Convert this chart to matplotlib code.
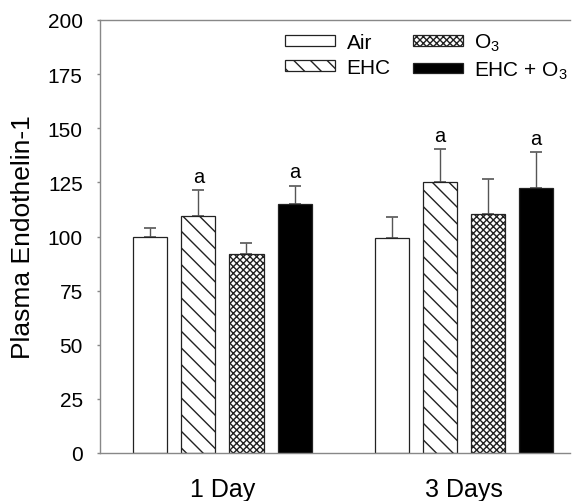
import matplotlib
matplotlib.use("Agg")
import matplotlib.pyplot as plt
import numpy as np

plt.rcParams['font.family'] = ['Liberation Sans', 'DejaVu Sans']
plt.rcParams['mathtext.default'] = 'regular'
plt.rcParams['hatch.linewidth'] = 1.0

groups = ["1 Day", "3 Days"]
series = ["Air", "EHC", "O$_3$", "EHC + O$_3$"]
values = {
    "Air": [100, 99.5],
    "EHC": [109.5, 125],
    "O$_3$": [92, 110.5],
    "EHC + O$_3$": [115, 122.5],
}
errors = {
    "Air": [4, 9.7],
    "EHC": [12, 15.5],
    "O$_3$": [5, 16],
    "EHC + O$_3$": [8.5, 16.5],
}
sig = {
    "Air": ["", ""],
    "EHC": ["a", "a"],
    "O$_3$": ["", ""],
    "EHC + O$_3$": ["a", "a"],
}
yticks = [0, 25, 50, 75, 100, 125, 150, 175, 200]

styles = {
    "Air": dict(facecolor="white", hatch=None),
    "EHC": dict(facecolor="white", hatch="\\\\"),
    "O$_3$": dict(facecolor="white", hatch="xxxxx"),
    "EHC + O$_3$": dict(facecolor="black", hatch=None),
}

fig = plt.figure(figsize=(5.76, 5.02), dpi=100)
ax = fig.add_axes([100/576, 48/502, 470/576, 433/502])

x = np.arange(len(groups))
step = 0.199
width = 0.141
offsets = (np.arange(len(series)) - 1.5) * step

handles = []
for i, s in enumerate(series):
    xs = x + offsets[i]
    st = styles[s]
    b = ax.bar(xs, values[s], width=width, facecolor=st["facecolor"],
               hatch=st["hatch"], edgecolor="#222222", linewidth=0.9,
               label=s, zorder=2)
    handles.append(b)
    ax.errorbar(xs, values[s], yerr=[np.zeros(len(xs)), errors[s]],
                fmt="none", ecolor="#555555", elinewidth=1.0, capsize=4,
                capthick=1.2, zorder=1)
    for j, t in enumerate(sig[s]):
        if t:
            ax.annotate(t, (xs[j], values[s][j] + errors[s][j]),
                        xytext=(0, 3), textcoords="offset points",
                        ha="center", va="bottom", fontsize=14.5)

ax.set_ylim(0, 200)
ax.set_xlim(-0.507, 1.439)
ax.set_yticks(yticks)
ax.set_xticks(x)
ax.set_xticklabels(groups, fontsize=18)
ax.tick_params(axis="x", length=0, pad=17)
ax.tick_params(axis="y", labelsize=15, length=2.5, width=1, color="#888888", pad=10)
ax.set_ylabel("Plasma Endothelin-1", fontsize=19)
ax.yaxis.set_label_coords(-0.138, 0.5)

for sp in ["left", "bottom", "top"]:
    ax.spines[sp].set_color("#888888")
    ax.spines[sp].set_linewidth(1.0)
ax.spines["right"].set_visible(False)

leg = ax.legend(handles=handles, labels=series, ncol=2, frameon=False,
                fontsize=15, loc="upper left", bbox_to_anchor=(0.394, 0.972),
                handlelength=2.4, handleheight=0.4, labelspacing=0.28,
                columnspacing=1.05, handletextpad=0.55, borderaxespad=0,
                borderpad=0)

fig.savefig("out.png", dpi=100)
